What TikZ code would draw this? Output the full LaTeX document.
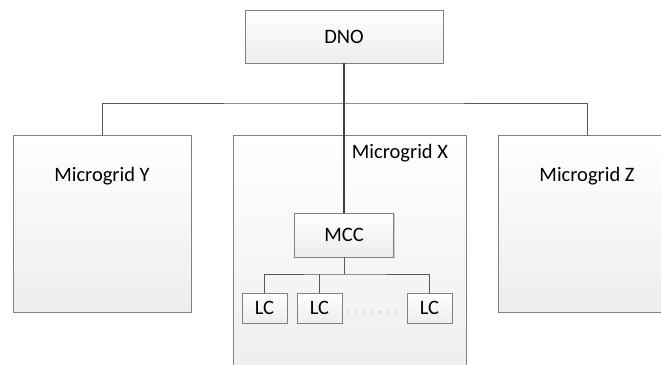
\documentclass[tikz,border=0pt]{standalone}
\usepackage{fontspec}
\setmainfont{Carlito}
\usetikzlibrary{shadows}
\tikzset{
  box/.style={draw=black!50, line width=1pt, top color=white, bottom color=black!7,
    general shadow={fill=black!20, shadow xshift=1.2pt, shadow yshift=-1.2pt},
    inner sep=0pt, outer sep=0pt},
  lbl/.style={font=\fontsize{20.5}{24}\selectfont, inner sep=0pt},
  wire/.style={draw=black!65, line width=1pt},
  mainwire/.style={draw=black!75, line width=1.4pt}
}
\begin{document}
\begin{tikzpicture}[x=1pt,y=-1pt]
\useasboundingbox (0,0) rectangle (661,364);
% microgrid boxes
\node[box, minimum width=178pt, minimum height=177pt] (mgy) at (102,223.5) {};
\node[box, minimum width=233pt, minimum height=250pt] (mgx) at (349.5,260) {};
\node[box, minimum width=178pt, minimum height=177pt] (mgz) at (587,223.5) {};
\node[lbl] (ty) at (102,176) {Microgrid Y};
\node[lbl] (tx) at (400,153) {Microgrid X};
\node[lbl] (tz) at (587,176) {Microgrid Z};
% DNO
\node[box, lbl, minimum width=198pt, minimum height=53pt] (dno) at (344,36.5) {DNO};
% MCC and LCs
\node[box, lbl, minimum width=99pt, minimum height=44pt] (mcc) at (344,235) {MCC};
\node[box, lbl, minimum width=45pt, minimum height=30pt] (lc1) at (264.5,308) {LC};
\node[box, lbl, minimum width=45pt, minimum height=30pt] (lc2) at (319.5,308) {LC};
\node[box, lbl, minimum width=45pt, minimum height=30pt] (lc3) at (429.5,308) {LC};
% connectors
\coordinate (bus) at (344,103);
\coordinate (lbus) at (344,274);
\draw[wire] (mgy.north) |- (bus) -| (mgz.north);
\draw[mainwire] (dno.south) -- (mcc.north);
\draw[wire] (lc1.north) |- (lbus) -| (lc3.north);
\draw[wire] (mcc.south) -- (lbus);
\draw[wire] (lc2.north) -- (lc2.north |- lbus);
\draw[black!45, line width=1.3pt, line cap=round, dash pattern=on 0pt off 7.9pt, shorten <=6pt, shorten >=9pt] ([yshift=-4pt]lc2.east) -- ([yshift=-4pt]lc3.west);
\end{tikzpicture}
\end{document}
